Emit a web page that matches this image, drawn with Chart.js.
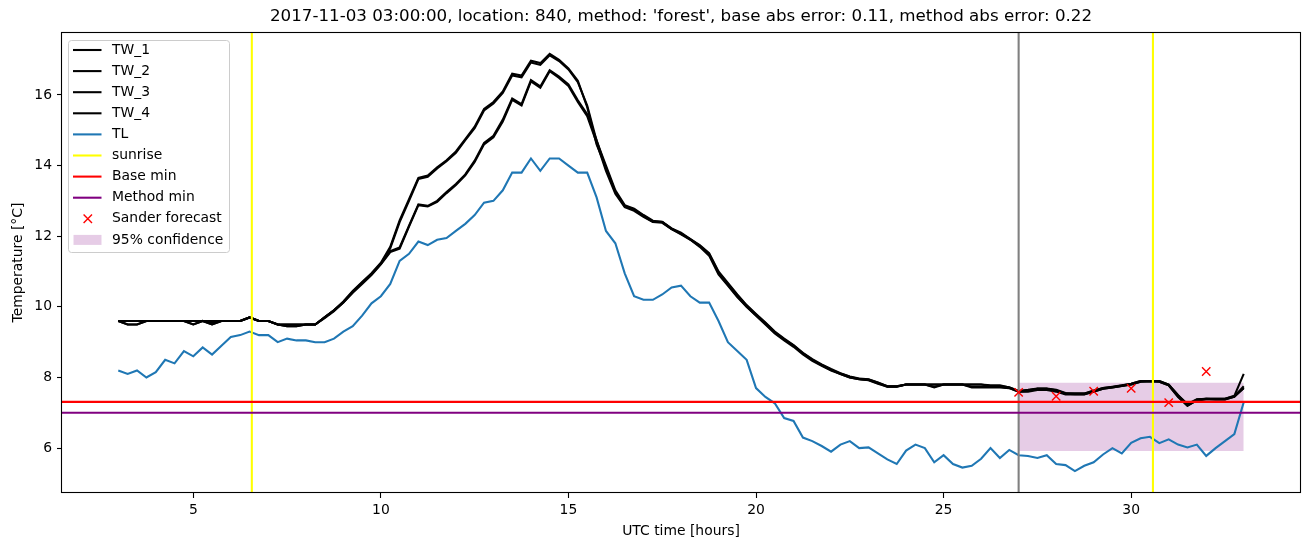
<!DOCTYPE html>
<html>
<head>
<meta charset="utf-8">
<script src="https://cdn.jsdelivr.net/npm/chart.js@4.4.0/dist/chart.umd.min.js"></script>
<style>
    body { margin: 0; background: #fff; }
</style>
</head>
<body>
<canvas id="tempChart" width="1311" height="547"></canvas>
<script>
// samples every 15 min, from 03:00 to 33:00 UTC
var startHour = 3;
var stepHour = 0.25;

var TW_1 = [
    9.6, 9.6, 9.6, 9.6, 9.6, 9.6, 9.6, 9.6, 9.6, 9.6, 9.6, 9.6, 9.6, 9.6, 9.7, 9.6,
    9.6, 9.5, 9.5, 9.5, 9.5, 9.5, 9.7, 9.9, 10.15, 10.45, 10.7, 10.95, 11.25, 11.7, 12.45, 13.05,
    13.65, 13.72, 13.95, 14.15, 14.4, 14.75, 15.1, 15.6, 15.8, 16.1, 16.6, 16.55, 16.97, 16.9, 17.16, 16.99,
    16.75, 16.4, 15.65, 14.6, 13.95, 13.25, 12.85, 12.76, 12.58, 12.42, 12.41, 12.22, 12.1, 11.92, 11.75, 11.52,
    11.0, 10.68, 10.35, 10.05, 9.8, 9.56, 9.3, 9.1, 8.92, 8.7, 8.52, 8.37, 8.24, 8.12, 8.03, 7.97,
    7.95, 7.86, 7.75, 7.75, 7.8, 7.8, 7.8, 7.8, 7.8, 7.8, 7.8, 7.8, 7.8, 7.78, 7.78, 7.72,
    7.62, 7.65, 7.69, 7.69, 7.65, 7.56, 7.55, 7.55, 7.63, 7.7, 7.74, 7.78, 7.82, 7.9, 7.9, 7.9,
    7.8, 7.5, 7.25, 7.38, 7.4, 7.4, 7.4, 7.48, 8.1
];
var TW_2 = [
    9.6, 9.5, 9.5, 9.6, 9.6, 9.6, 9.6, 9.6, 9.5, 9.6, 9.5, 9.6, 9.6, 9.6, 9.7, 9.6,
    9.6, 9.5, 9.45, 9.45, 9.5, 9.5, 9.68, 9.88, 10.12, 10.42, 10.68, 10.92, 11.22, 11.66, 12.4, 13.0,
    13.62, 13.68, 13.92, 14.12, 14.36, 14.72, 15.06, 15.56, 15.76, 16.06, 16.55, 16.5, 16.92, 16.85, 17.12, 16.96,
    16.72, 16.36, 15.7, 14.7, 14.0, 13.3, 12.88, 12.78, 12.6, 12.44, 12.4, 12.2, 12.08, 11.9, 11.72, 11.48,
    10.95, 10.62, 10.3, 10.0, 9.76, 9.52, 9.27, 9.07, 8.9, 8.68, 8.5, 8.35, 8.22, 8.1, 8.0, 7.95,
    7.93, 7.84, 7.74, 7.74, 7.8, 7.8, 7.8, 7.72, 7.8, 7.8, 7.8, 7.72, 7.72, 7.72, 7.72, 7.7,
    7.6, 7.62, 7.68, 7.68, 7.62, 7.54, 7.53, 7.53, 7.6, 7.68, 7.72, 7.76, 7.8, 7.88, 7.88, 7.88,
    7.78, 7.46, 7.2, 7.36, 7.4, 7.38, 7.38, 7.46, 7.75
];
var TW_3 = [
    9.6, 9.5, 9.5, 9.6, 9.6, 9.6, 9.6, 9.6, 9.5, 9.6, 9.5, 9.6, 9.6, 9.6, 9.7, 9.6,
    9.6, 9.5, 9.45, 9.45, 9.5, 9.5, 9.7, 9.9, 10.12, 10.4, 10.65, 10.9, 11.2, 11.55, 11.65, 12.27,
    12.88, 12.84, 12.97, 13.22, 13.45, 13.72, 14.1, 14.6, 14.8, 15.25, 15.86, 15.7, 16.38, 16.2, 16.67, 16.48,
    16.25, 15.8, 15.4, 14.65, 13.85, 13.2, 12.82, 12.72, 12.55, 12.4, 12.38, 12.2, 12.05, 11.9, 11.7, 11.45,
    10.92, 10.6, 10.28, 10.0, 9.75, 9.5, 9.25, 9.05, 8.87, 8.65, 8.47, 8.33, 8.2, 8.1, 8.0, 7.95,
    7.92, 7.82, 7.74, 7.74, 7.8, 7.8, 7.8, 7.74, 7.8, 7.8, 7.8, 7.74, 7.74, 7.74, 7.74, 7.7,
    7.6, 7.6, 7.65, 7.65, 7.6, 7.52, 7.52, 7.52, 7.6, 7.68, 7.72, 7.76, 7.8, 7.88, 7.9, 7.88,
    7.78, 7.45, 7.2, 7.35, 7.38, 7.38, 7.38, 7.45, 7.7
];
var TW_4 = [
    9.6, 9.6, 9.6, 9.6, 9.6, 9.6, 9.6, 9.6, 9.6, 9.6, 9.55, 9.6, 9.6, 9.6, 9.7, 9.6,
    9.6, 9.5, 9.5, 9.5, 9.5, 9.5, 9.7, 9.9, 10.14, 10.43, 10.68, 10.93, 11.22, 11.58, 11.68, 12.3,
    12.9, 12.86, 13.0, 13.25, 13.48, 13.75, 14.14, 14.64, 14.84, 15.3, 15.9, 15.74, 16.42, 16.24, 16.7, 16.52,
    16.3, 15.85, 15.45, 14.72, 13.92, 13.25, 12.85, 12.75, 12.57, 12.41, 12.4, 12.21, 12.07, 11.92, 11.73, 11.5,
    10.97, 10.65, 10.33, 10.03, 9.78, 9.54, 9.28, 9.08, 8.9, 8.68, 8.5, 8.35, 8.22, 8.11, 8.02, 7.96,
    7.94, 7.85, 7.75, 7.75, 7.8, 7.8, 7.8, 7.8, 7.8, 7.8, 7.8, 7.8, 7.8, 7.76, 7.76, 7.72,
    7.62, 7.64, 7.68, 7.68, 7.64, 7.55, 7.54, 7.54, 7.62, 7.7, 7.73, 7.77, 7.82, 7.9, 7.9, 7.9,
    7.8, 7.5, 7.22, 7.38, 7.4, 7.4, 7.4, 7.47, 7.7
];
var TL = [
    8.2, 8.1, 8.2, 8.0, 8.15, 8.5, 8.4, 8.75, 8.6, 8.85, 8.65, 8.9, 9.15, 9.2, 9.3, 9.2,
    9.2, 9.0, 9.1, 9.05, 9.05, 9.0, 9.0, 9.1, 9.3, 9.45, 9.75, 10.1, 10.3, 10.65, 11.3, 11.5,
    11.85, 11.75, 11.9, 11.95, 12.15, 12.35, 12.6, 12.95, 13.0, 13.3, 13.8, 13.8, 14.2, 13.85, 14.2, 14.2,
    14.0, 13.8, 13.8, 13.1, 12.15, 11.8, 10.95, 10.3, 10.2, 10.2, 10.35, 10.55, 10.6, 10.3, 10.12, 10.12,
    9.6, 9.0, 8.75, 8.5, 7.7, 7.45, 7.27, 6.85, 6.77, 6.3, 6.2, 6.06, 5.9, 6.1, 6.2, 6.0,
    6.02, 5.85, 5.68, 5.55, 5.93, 6.1, 6.0, 5.6, 5.8, 5.55, 5.45, 5.5, 5.7, 6.0, 5.72, 5.95,
    5.8, 5.78, 5.72, 5.8, 5.55, 5.52, 5.35, 5.5, 5.6, 5.82, 6.0, 5.85, 6.15, 6.28, 6.32, 6.14,
    6.25, 6.1, 6.02, 6.1, 5.78, 6.0, 6.2, 6.4, 7.3
];

var sanderHours = [27, 28, 29, 30, 31, 32];
var sanderValues = [7.58, 7.47, 7.61, 7.69, 7.29, 8.17];

var sunriseHours = [6.56, 30.58];
var forecastHour = 27;
var baseMin = 7.31;
var methodMin = 7.0;
var confHours = [27, 33];
var confUpper = [7.85, 7.85];
var confLower = [5.92, 5.92];

var xTicks = [5, 10, 15, 20, 25, 30];
var yTicks = [6, 8, 10, 12, 14, 16];
var xMin = 1.5, xMax = 34.5, yMin = 4.73, yMax = 17.78;

var hours = [];
for (var i = 0; i < TL.length; i++) hours.push(startHour + i * stepHour);

var tickSize = 13.9;
var lineW = 2.08;   // 1.5pt at 100 dpi
Chart.defaults.font.family = "'DejaVu Sans', sans-serif";
Chart.defaults.color = '#000';

function toPoints(xs, ys) {
    var pts = [];
    for (var i = 0; i < xs.length; i++) pts.push({ x: xs[i], y: ys[i] });
    return pts;
}

function lineSet(label, data, color) {
    return {
        label: label,
        data: data,
        borderColor: color,
        backgroundColor: color,
        borderWidth: lineW,
        pointRadius: 0,
        tension: 0,
        fill: false
    };
}

var datasets = [];
var conf = lineSet('95% confidence', toPoints(confHours, confUpper), 'rgba(0,0,0,0)');
conf.backgroundColor = 'rgba(128,0,128,0.2)';
conf.borderWidth = 0;
conf.fill = '+1';
datasets.push(conf);
var confLow = lineSet('', toPoints(confHours, confLower), 'rgba(0,0,0,0)');
confLow.borderWidth = 0;
datasets.push(confLow);

datasets.push(lineSet('TW_1', toPoints(hours, TW_1), '#000000'));
datasets.push(lineSet('TW_2', toPoints(hours, TW_2), '#000000'));
datasets.push(lineSet('TW_3', toPoints(hours, TW_3), '#000000'));
datasets.push(lineSet('TW_4', toPoints(hours, TW_4), '#000000'));
datasets.push(lineSet('TL', toPoints(hours, TL), '#1f77b4'));
sunriseHours.forEach(function (h) {
    datasets.push(lineSet('sunrise', [{ x: h, y: yMin }, { x: h, y: yMax }], '#ffff00'));
});
datasets.push(lineSet('', [{ x: forecastHour, y: yMin }, { x: forecastHour, y: yMax }], '#808080'));
datasets.push(lineSet('Base min', [{ x: xMin, y: baseMin }, { x: xMax, y: baseMin }], '#ff0000'));
datasets.push(lineSet('Method min', [{ x: xMin, y: methodMin }, { x: xMax, y: methodMin }], '#800080'));

var sander = lineSet('Sander forecast', toPoints(sanderHours, sanderValues), '#ff0000');
sander.showLine = false;
sander.pointStyle = 'crossRot';
sander.pointRadius = 5.9;
sander.borderWidth = 1.4;
datasets.push(sander);

// matplotlib draws later artists on top, chart.js the opposite
for (var d = 0; d < datasets.length; d++) datasets[d].order = datasets.length - d;

var legendItems = [
    { label: 'TW_1', kind: 'line', color: '#000000' },
    { label: 'TW_2', kind: 'line', color: '#000000' },
    { label: 'TW_3', kind: 'line', color: '#000000' },
    { label: 'TW_4', kind: 'line', color: '#000000' },
    { label: 'TL', kind: 'line', color: '#1f77b4' },
    { label: 'sunrise', kind: 'line', color: '#ffff00' },
    { label: 'Base min', kind: 'line', color: '#ff0000' },
    { label: 'Method min', kind: 'line', color: '#800080' },
    { label: 'Sander forecast', kind: 'x', color: '#ff0000' },
    { label: '95% confidence', kind: 'patch', color: 'rgba(128,0,128,0.2)' }
];

var framePlugin = {
    id: 'frameAndLegend',
    afterDraw: function (chart) {
        var ctx = chart.ctx;
        var a = chart.chartArea;
        ctx.save();
        ctx.strokeStyle = '#000';
        ctx.lineWidth = 1.1;
        ctx.strokeRect(Math.round(a.left) - 0.5, Math.round(a.top) + 0.5, Math.round(a.right - a.left) + 1, Math.round(a.bottom - a.top) - 1);

        // legend box, upper left
        var bx = 68.5, by = 40.5, bw = 161, bh = 212, r = 3;
        ctx.beginPath();
        ctx.moveTo(bx + r, by);
        ctx.arcTo(bx + bw, by, bx + bw, by + bh, r);
        ctx.arcTo(bx + bw, by + bh, bx, by + bh, r);
        ctx.arcTo(bx, by + bh, bx, by, r);
        ctx.arcTo(bx, by, bx + bw, by, r);
        ctx.closePath();
        ctx.fillStyle = 'rgba(255,255,255,0.8)';
        ctx.fill();
        ctx.strokeStyle = '#cccccc';
        ctx.lineWidth = 1;
        ctx.stroke();

        ctx.font = tickSize + "px 'DejaVu Sans'";
        ctx.textBaseline = 'middle';
        ctx.textAlign = 'left';
        legendItems.forEach(function (it, k) {
            var y = 50 + k * 21.1;
            if (it.kind === 'line') {
                ctx.strokeStyle = it.color;
                ctx.lineWidth = lineW;
                ctx.beginPath();
                ctx.moveTo(73, y);
                ctx.lineTo(101.5, y);
                ctx.stroke();
            } else if (it.kind === 'x') {
                ctx.strokeStyle = it.color;
                ctx.lineWidth = 1.4;
                ctx.beginPath();
                ctx.moveTo(83.6, y - 4.2); ctx.lineTo(92, y + 4.2);
                ctx.moveTo(83.6, y + 4.2); ctx.lineTo(92, y - 4.2);
                ctx.stroke();
            } else {
                ctx.fillStyle = it.color;
                ctx.fillRect(73.5, y - 5, 28, 10);
            }
            ctx.fillStyle = '#000';
            ctx.fillText(it.label, 112, y);
        });
        ctx.restore();
    }
};

var ctx = document.getElementById('tempChart').getContext('2d');
window.tempChart = new Chart(ctx, {
    type: 'line',
    data: { datasets: datasets },
    options: {
        responsive: false,
        animation: false,
        layout: { padding: { left: 0, right: 11, top: 0, bottom: 0 } },
        plugins: {
            legend: { display: false },
            tooltip: { enabled: false },
            title: {
                display: true,
                fullSize: false,
                text: "2017-11-03 03:00:00, location: 840, method: 'forest', base abs error: 0.11, method abs error: 0.22",
                font: { size: 16.7, weight: 'normal' },
                color: '#000',
                padding: { top: 7, bottom: 5 }
            }
        },
        scales: {
            x: {
                type: 'linear',
                min: xMin,
                max: xMax,
                afterBuildTicks: function (scale) {
                    scale.ticks = xTicks.map(function (v) { return { value: v }; });
                },
                afterFit: function (scale) { scale.height = 54; },
                ticks: { font: { size: tickSize }, color: '#000', padding: 4, maxRotation: 0, autoSkip: false },
                grid: { drawOnChartArea: false, drawTicks: true, tickLength: 5, color: '#000', tickWidth: 1.1 },
                border: { display: false },
                title: { display: true, text: 'UTC time [hours]', font: { size: tickSize }, color: '#000', padding: { top: 0, bottom: 7 } }
            },
            y: {
                type: 'linear',
                min: yMin,
                max: yMax,
                afterBuildTicks: function (scale) {
                    scale.ticks = yTicks.map(function (v) { return { value: v }; });
                },
                afterFit: function (scale) { scale.width = 62; },
                ticks: { font: { size: tickSize }, color: '#000', padding: 5 },
                grid: { drawOnChartArea: false, drawTicks: true, tickLength: 5, color: '#000', tickWidth: 1.1 },
                border: { display: false },
                title: { display: true, text: 'Temperature [°C]', font: { size: tickSize }, color: '#000', padding: { top: 9.7, bottom: 0 } }
            }
        }
    },
    plugins: [framePlugin]
});
</script>
</body>
</html>
